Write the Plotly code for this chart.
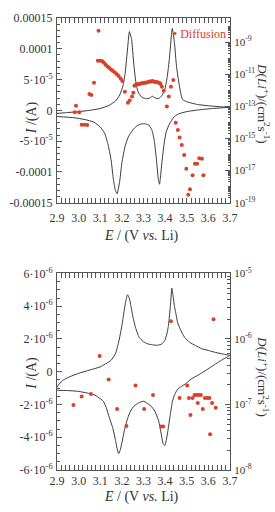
import plotly.graph_objects as go

# ---------------- data ----------------
# Top panel: cyclic voltammogram (I in A), upper (anodic) and lower (cathodic) branches
E_top_up = [2.90, 2.95, 3.00, 3.05, 3.10, 3.14, 3.17, 3.19, 3.205, 3.215, 3.225, 3.235, 3.245, 3.255,
            3.265, 3.275, 3.29, 3.31, 3.33, 3.34, 3.355, 3.37, 3.385, 3.40, 3.41, 3.42, 3.433, 3.443,
            3.453, 3.465, 3.48, 3.50, 3.55, 3.60, 3.65, 3.70]
I_top_up = [-0.5e-5, -0.35e-5, -0.2e-5, 0.0, 0.3e-5, 0.8e-5, 1.5e-5, 2.5e-5, 4.0e-5, 6.0e-5, 9.5e-5,
            12.8e-5, 11.5e-5, 7.5e-5, 4.5e-5, 3.0e-5, 2.2e-5, 1.9e-5, 2.0e-5, 2.3e-5, 2.0e-5, 1.9e-5,
            2.4e-5, 3.6e-5, 5.5e-5, 8.5e-5, 13.3e-5, 11.0e-5, 7.0e-5, 4.2e-5, 1.8e-5, 1.4e-5, 0.95e-5,
            0.75e-5, 0.6e-5, 0.5e-5]
E_top_dn = [3.70, 3.62, 3.56, 3.50, 3.46, 3.44, 3.42, 3.405, 3.395, 3.385, 3.378, 3.374, 3.368, 3.36,
            3.35, 3.34, 3.325, 3.31, 3.29, 3.27, 3.25, 3.23, 3.215, 3.20, 3.19, 3.178, 3.17, 3.16,
            3.15, 3.135, 3.12, 3.10, 3.07, 3.03, 2.98, 2.90]
I_top_dn = [0.5e-5, 0.3e-5, 0.1e-5, -0.2e-5, -0.6e-5, -1.1e-5, -2.2e-5, -3.5e-5, -5.5e-5, -8.5e-5,
            -11.0e-5, -12.0e-5, -11.0e-5, -8.0e-5, -5.0e-5, -3.3e-5, -2.4e-5, -2.2e-5, -2.2e-5, -2.5e-5,
            -3.2e-5, -4.3e-5, -5.8e-5, -8.5e-5, -11.5e-5, -13.5e-5, -13.0e-5, -11.0e-5, -8.0e-5,
            -5.4e-5, -3.7e-5, -2.7e-5, -1.9e-5, -1.5e-5, -1.2e-5, -1.0e-5]

# Top panel: diffusion coefficient (cm^2 s^-1)
E_top_D = [2.988, 2.982, 3.003, 3.014, 3.027, 3.040, 3.050, 3.059, 3.071, 3.089, 3.100, 3.110, 3.092,
           3.117, 3.125, 3.134, 3.142, 3.151, 3.159, 3.168, 3.177, 3.185, 3.194, 3.202, 3.214, 3.228,
           3.236, 3.247, 3.253,
           3.258, 3.265, 3.271, 3.277, 3.283, 3.290, 3.296, 3.303, 3.309, 3.315, 3.322, 3.328, 3.335,
           3.341, 3.347, 3.354, 3.360, 3.367, 3.373, 3.379,
           3.385, 3.394, 3.417, 3.408, 3.427, 3.438, 3.449, 3.459, 3.467, 3.477, 3.488, 3.498, 3.527,
           3.538, 3.548, 3.558, 3.570, 3.577, 3.515, 3.507]
D_top = [1.1e-13, 4.3e-14, 4.3e-14, 7.2e-15, 7.2e-15, 6.8e-15, 5.8e-13, 5.0e-13, 2.9e-12, 6.9e-11,
         6.9e-11, 6.5e-11, 5.0e-9,
         5.2e-11, 3.9e-11, 3.0e-11, 2.4e-11, 1.9e-11, 1.6e-11, 1.26e-11, 1.0e-11, 7.8e-12, 5.5e-12,
         3.8e-12, 8.1e-13, 1.7e-13, 2.3e-13, 4.1e-13, 7.1e-13,
         1.9e-12, 2.2e-12, 2.35e-12, 2.5e-12, 2.5e-12, 2.7e-12, 2.7e-12, 2.9e-12, 2.9e-12, 3.1e-12,
         3.3e-12, 3.55e-12, 3.55e-12, 3.8e-12, 3.55e-12, 3.3e-12, 3.3e-12, 3.1e-12, 2.9e-12, 2.5e-12,
         1.66e-12, 9.3e-13, 4.1e-13, 9.8e-14, 1.66e-12, 4.3e-12, 9.5e-15, 3.4e-15, 1.15e-15, 3.9e-16,
         9.5e-17, 1.3e-17, 5.1e-18, 2.7e-17, 2.7e-17, 5.9e-17, 5.4e-17, 5.1e-18, 6.9e-19, 3.1e-19]

# Bottom panel: cyclic voltammogram (I in A)
E_bot_up = [2.893, 2.91, 2.93, 2.96, 3.00, 3.05, 3.10, 3.15, 3.17, 3.185, 3.20, 3.209, 3.218, 3.226,
            3.234, 3.242, 3.252, 3.263, 3.28, 3.299, 3.32, 3.342, 3.365, 3.385, 3.398, 3.406, 3.414,
            3.42, 3.426, 3.431, 3.437, 3.443, 3.449, 3.458, 3.47, 3.49, 3.513, 3.54, 3.57, 3.60,
            3.627, 3.66, 3.70]
I_bot_up = [-1.1e-6, -0.75e-6, -0.5e-6, -0.3e-6, -0.1e-6, 0.1e-6, 0.3e-6, 0.7e-6, 1.1e-6, 1.8e-6,
            2.8e-6, 3.6e-6, 4.3e-6, 4.7e-6, 4.5e-6, 4.0e-6, 3.3e-6, 2.7e-6, 2.1e-6, 1.84e-6, 1.7e-6,
            1.64e-6, 1.62e-6, 1.7e-6, 1.9e-6, 2.2e-6, 2.7e-6, 3.4e-6, 4.3e-6, 5.1e-6, 4.6e-6, 4.0e-6,
            3.6e-6, 3.0e-6, 2.6e-6, 2.1e-6, 1.8e-6, 1.6e-6, 1.4e-6, 1.3e-6, 1.2e-6, 1.1e-6, 1.0e-6]
E_bot_dn = [3.70, 3.66, 3.627, 3.59, 3.556, 3.52, 3.498, 3.475, 3.456, 3.444, 3.434, 3.424, 3.413,
            3.405, 3.399, 3.391, 3.382, 3.37, 3.352, 3.335, 3.315, 3.299, 3.278, 3.256, 3.24, 3.228,
            3.213, 3.199, 3.192, 3.185, 3.178, 3.171, 3.157, 3.142, 3.128, 3.114, 3.09, 3.071, 3.04,
            3.00, 2.95, 2.893]
I_bot_dn = [1.0e-6, 0.7e-6, 0.42e-6, 0.1e-6, -0.18e-6, -0.45e-6, -0.7e-6, -0.9e-6, -1.1e-6, -1.4e-6,
            -1.8e-6, -2.6e-6, -3.6e-6, -4.2e-6, -4.5e-6, -4.4e-6, -3.8e-6, -3.0e-6, -2.4e-6, -2.1e-6,
            -1.9e-6, -1.8e-6, -1.9e-6, -2.1e-6, -2.4e-6, -2.8e-6, -3.5e-6, -4.4e-6, -4.8e-6, -5.0e-6,
            -4.7e-6, -4.2e-6, -3.4e-6, -2.8e-6, -2.2e-6, -1.8e-6, -1.55e-6, -1.4e-6, -1.3e-6, -1.2e-6,
            -1.15e-6, -1.1e-6]

# Bottom panel: diffusion coefficient (cm^2 s^-1)
E_bot_D = [2.976, 3.014, 3.057, 3.097, 3.139, 3.178, 3.221, 3.263, 3.303, 3.344, 3.382, 3.391, 3.427,
           3.467, 3.502, 3.510, 3.517, 3.527, 3.536, 3.545, 3.556, 3.565, 3.551, 3.574, 3.584, 3.595,
           3.605, 3.617, 3.634, 3.608, 3.624]
D_bot = [9.8e-8, 1.32e-7, 1.45e-7, 5.5e-7, 2.4e-7, 8.5e-8, 4.7e-8, 1.95e-7, 8.5e-8, 1.4e-7, 4.6e-8,
         4.6e-8, 1.86e-6, 1.26e-7, 1.95e-7, 1.26e-7, 6.9e-8, 1.26e-7, 1.4e-7, 1.4e-7, 1.4e-7, 1.4e-7,
         1.05e-7, 8.5e-8, 1.26e-7, 1.26e-7, 1.26e-7, 1.05e-7, 8.9e-8, 3.5e-8, 2.0e-6]

x_ticks = [2.9, 3.0, 3.1, 3.2, 3.3, 3.4, 3.5, 3.6, 3.7]
x_ticktext = ["2.9", "3.0", "3.1", "3.2", "3.3", "3.4", "3.5", "3.6", "3.7"]
yt_top = [1.5e-4, 1e-4, 5e-5, 0, -5e-5, -1e-4, -1.5e-4]
yt_top_text = ["0.00015", "0.0001", "5·10<sup>-5</sup>", "0", "-5·10<sup>-5</sup>", "-0.0001", "-0.00015"]
yt_bot = [6e-6, 4e-6, 2e-6, 0, -2e-6, -4e-6, -6e-6]
yt_bot_text = ["6·10<sup>-6</sup>", "4·10<sup>-6</sup>", "2·10<sup>-6</sup>", "0",
               "-2·10<sup>-6</sup>", "-4·10<sup>-6</sup>", "-6·10<sup>-6</sup>"]
rt_top = [1e-9, 1e-11, 1e-13, 1e-15, 1e-17, 1e-19]
rt_top_text = ["10<sup>-9</sup>", "10<sup>-11</sup>", "10<sup>-13</sup>", "10<sup>-15</sup>",
               "10<sup>-17</sup>", "10<sup>-19</sup>"]
rt_bot = [1e-5, 1e-6, 1e-7, 1e-8]
rt_bot_text = ["10<sup>-5</sup>", "10<sup>-6</sup>", "10<sup>-7</sup>", "10<sup>-8</sup>"]

# ---------------- style ----------------
W, H = 275, 512
ML, MR, MT, MB = 43, 45, 10, 42
FONT = "Liberation Serif"
AX = "#555555"
LINE = "#3a3a3a"
RED = "#d9412b"


def px_x(x):
    return (x - ML) / (W - ML - MR)


def px_y(y):
    return (H - MB - y) / (H - MT - MB)


top_dom = [px_y(198), 1.0]
bot_dom = [0.0, px_y(270)]

fig = go.Figure()
fig.add_trace(go.Scatter(x=E_top_up + E_top_dn, y=I_top_up + I_top_dn, mode="lines",
                         line=dict(color=LINE, width=1, shape="spline", smoothing=0.5),
                         xaxis="x", yaxis="y", showlegend=False))
fig.add_trace(go.Scatter(x=E_top_D, y=D_top, mode="markers",
                         marker=dict(color=RED, size=4), xaxis="x", yaxis="y3", showlegend=False))
fig.add_trace(go.Scatter(x=E_bot_up + E_bot_dn, y=I_bot_up + I_bot_dn, mode="lines",
                         line=dict(color=LINE, width=1, shape="spline", smoothing=0.5),
                         xaxis="x2", yaxis="y2", showlegend=False))
fig.add_trace(go.Scatter(x=E_bot_D, y=D_bot, mode="markers",
                         marker=dict(color=RED, size=4), xaxis="x2", yaxis="y4", showlegend=False))

tickfont = dict(family=FONT, size=12, color="#333333")
rtickfont = dict(family=FONT, size=11, color="#333333")
xcommon = dict(range=[2.9, 3.7], tickmode="array", tickvals=x_ticks, ticktext=x_ticktext,
               ticks="inside", ticklen=5, tickcolor=AX, showline=True, linecolor=AX, linewidth=1,
               mirror="allticks", showgrid=False, zeroline=False, tickfont=tickfont,
               minor=dict(dtick=0.02, ticks="inside", ticklen=3, tickcolor=AX))

log_minor_top = [m * 10.0 ** e for e in range(-19, -7) for m in range(1, 10)]
log_minor_bot = [m * 10.0 ** e for e in range(-8, -5) for m in range(1, 10)]

fig.update_layout(
    width=W, height=H, margin=dict(l=ML, r=MR, t=MT, b=MB),
    paper_bgcolor="white", plot_bgcolor="white",
    font=dict(family=FONT, size=12, color="#333333"),
    xaxis=dict(xcommon, anchor="y", domain=[0, 1], ticklabelstandoff=4),
    xaxis2=dict(xcommon, anchor="y2", domain=[0, 1], ticklabelstandoff=0),
    yaxis=dict(domain=top_dom, anchor="x", range=[-1.5e-4, 1.5e-4], tickmode="array",
               tickvals=yt_top, ticktext=yt_top_text, ticks="inside", ticklen=5, tickcolor=AX,
               showline=True, linecolor=AX, linewidth=1, showgrid=False, zeroline=False,
               tickfont=tickfont, ticklabelstandoff=1,
               minor=dict(dtick=1e-5, ticks="inside", ticklen=3, tickcolor=AX)),
    yaxis2=dict(domain=bot_dom, anchor="x2", range=[-6e-6, 6e-6], tickmode="array",
                tickvals=yt_bot, ticktext=yt_bot_text, ticks="inside", ticklen=5, tickcolor=AX,
                showline=True, linecolor=AX, linewidth=1, showgrid=False, zeroline=False,
                tickfont=tickfont, ticklabelstandoff=1,
                minor=dict(dtick=0.5e-6, ticks="inside", ticklen=3, tickcolor=AX)),
    yaxis3=dict(overlaying="y", anchor="x", side="right", type="log", range=[-19, -7.5],
                tickmode="array", tickvals=rt_top, ticktext=rt_top_text, ticks="inside",
                ticklen=5, tickcolor=AX, showline=True, linecolor=AX, linewidth=1,
                showgrid=False, zeroline=False, tickfont=rtickfont, ticklabelstandoff=1,
                minor=dict(tickmode="array", tickvals=log_minor_top, ticks="inside", ticklen=2,
                           tickcolor=AX)),
    yaxis4=dict(overlaying="y2", anchor="x2", side="right", type="log", range=[-8, -5],
                tickmode="array", tickvals=rt_bot, ticktext=rt_bot_text, ticks="inside",
                ticklen=5, tickcolor=AX, showline=True, linecolor=AX, linewidth=1,
                showgrid=False, zeroline=False, tickfont=rtickfont, ticklabelstandoff=1,
                minor=dict(tickmode="array", tickvals=log_minor_bot, ticks="inside", ticklen=3,
                           tickcolor=AX)),
)

tfont = dict(family=FONT, size=14, color="#333333")
rfont = dict(family=FONT, size=13, color="#333333")
ann = [
    dict(x=px_x(134), y=px_y(232), text="<i>E</i> / (V <i>vs.</i> Li)", textangle=0, font=tfont),
    dict(x=px_x(134), y=px_y(497), text="<i>E</i> / (V <i>vs.</i> Li)", textangle=0, font=tfont),
    dict(x=px_x(16), y=px_y(112), text="<i>I</i> /(A)", textangle=-90, font=tfont),
    dict(x=px_x(16), y=px_y(372), text="<i>I</i> /(A)", textangle=-90, font=tfont),
    dict(x=px_x(266), y=px_y(97), text="<i>D</i>(<i>Li</i><sup>+</sup>)/(cm<sup>2</sup>s<sup>-1</sup>)",
         textangle=90, font=rfont),
    dict(x=px_x(266), y=px_y(375), text="<i>D</i>(<i>Li</i><sup>+</sup>)/(cm<sup>2</sup>s<sup>-1</sup>)",
         textangle=90, font=rfont),
]
for a in ann:
    fig.add_annotation(xref="paper", yref="paper", showarrow=False,
                       xanchor="center", yanchor="middle", **a)
fig.add_annotation(xref="paper", yref="paper", x=px_x(228), y=px_y(26), xanchor="right",
                   yanchor="middle", showarrow=False, text="• Diffusion",
                   font=dict(family=FONT, size=12, color=RED))

fig.write_html("out.html")
